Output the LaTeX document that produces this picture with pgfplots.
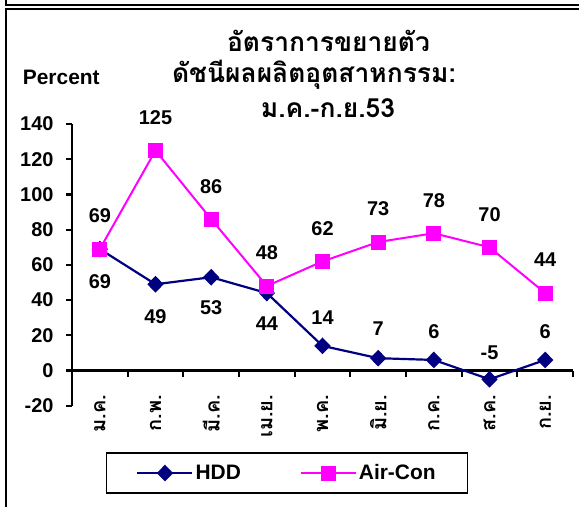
\documentclass[border=0pt]{standalone}
\usepackage{fontspec}
\setmainfont{Liberation Sans}
\newfontfamily\thaifont[Script=Thai]{Loma}
\usepackage{pgfplots}
\usepackage{pgfplotstable}
\pgfplotsset{compat=1.18}
\definecolor{hddnavy}{RGB}{0,0,128}
\definecolor{acpink}{RGB}{255,0,255}

% growth rates, Jan-Sep 2010 (B.E. 2553)
\pgfplotstableread{
x  hdd  hlab  hoff  ac   alab
0  69   69    -33   69   69
1  49   49    -32   125  125
2  53   53    -31   86   86
3  44   44    -31   48   48
4  14   14    28    62   62
5  7    7     30    73   73
6  6    6     28    78   78
7  -5   -5    27    70   70
8  6    6     28    44   44
}\growth

\newcommand\lbl{\bfseries\fontsize{20}{20}\selectfont}
\newcommand\ttl{\thaifont\bfseries\fontsize{26.5}{26.5}\selectfont}

\begin{document}
\begin{tikzpicture}[x=1bp,y=1bp]
\useasboundingbox (0,0) rectangle (579,-507);
% frame
\draw[line width=2bp] (5.7,0) -- (5.7,-6.3);
\draw[line width=2bp] (4.7,-5.3) -- (579,-5.3);
\draw[line width=2bp] (4.7,-9.2) -- (579,-9.2);
\draw[line width=2bp] (5.7,-9.2) -- (5.7,-507);
% title
\node[anchor=base, inner sep=0] at (328.5,-52) {\ttl อัตราการขยายตัว};
\node[anchor=base, inner sep=0] at (314,-83) {\ttl ดัชนีผลผลิตอุตสาหกรรม:};
\node[anchor=base, inner sep=0] at (328,-118) {\ttl ม.ค.-ก.ย.53};
\node[anchor=base west, inner sep=0] at (22.7,-85) {\bfseries\fontsize{21}{21}\selectfont Percent};

\begin{axis}[
  at={(72bp,-405.7bp)}, anchor=south west,
  scale only axis, width=501bp, height=281.6bp,
  xmin=-0.5, xmax=8.5, ymin=-20, ymax=140,
  axis x line=middle, axis y line=left,
  every inner x axis line/.append style={-},
  every outer y axis line/.append style={-},
  axis line style={line width=2.2bp, black},
  xtick={0,...,8},
  xticklabels={ม.ค.,ก.พ.,มี.ค.,เม.ย.,พ.ค.,มิ.ย.,ก.ค.,ส.ค.,ก.ย.},
  minor xtick={0.5,1.5,...,8.5},
  ytick={-20,0,...,140},
  yticklabels={-20,0,20,40,60,80,100,120,140},
  tick align=outside,
  major tick length=6bp, minor tick length=6bp,
  x tick style={draw=none},
  minor x tick style={draw=black, line width=2.2bp},
  y tick style={line width=2.2bp, black},
  xticklabel style={rotate=90, anchor=east, font=\thaifont\bfseries\fontsize{20}{20}\selectfont},
  xticklabel shift=15bp,
  yticklabel style={font=\lbl, xshift=-9bp},
  clip=false,
  legend style={at={(axis description cs:0.067,-0.166)}, anchor=north west,
    draw=black, line width=1.6bp, font=\bfseries\fontsize{21}{21}\selectfont,
    inner xsep=30bp, inner ysep=9.5bp,
    nodes={inner sep=2bp},
    /tikz/every even column/.append style={column sep=57bp}},
  legend columns=2,
  legend image code/.code={
    \draw[mark repeat=2,mark phase=2,#1] plot coordinates {(0bp,0bp) (27.5bp,0bp) (55bp,0bp)};},
  nodes near coords,
  point meta=explicit symbolic,
  nodes near coords style={anchor=center, font=\lbl, text=black},
]
\addplot[hddnavy, line width=2.2bp, mark=diamond*, mark size=6.8bp,
  mark options={xscale=1.3, solid},
  visualization depends on={\thisrow{hoff} \as \off},
  nodes near coords style={yshift=\off}]
  table[x=x, y=hdd, meta=hlab] {\growth};
\addlegendentry{HDD}
\addplot[acpink, line width=2bp, mark=square*, mark size=6.5bp,
  nodes near coords style={yshift=33bp}]
  table[x=x, y=ac, meta=alab] {\growth};
\addlegendentry{Air-Con}
\end{axis}
\end{tikzpicture}
\end{document}
